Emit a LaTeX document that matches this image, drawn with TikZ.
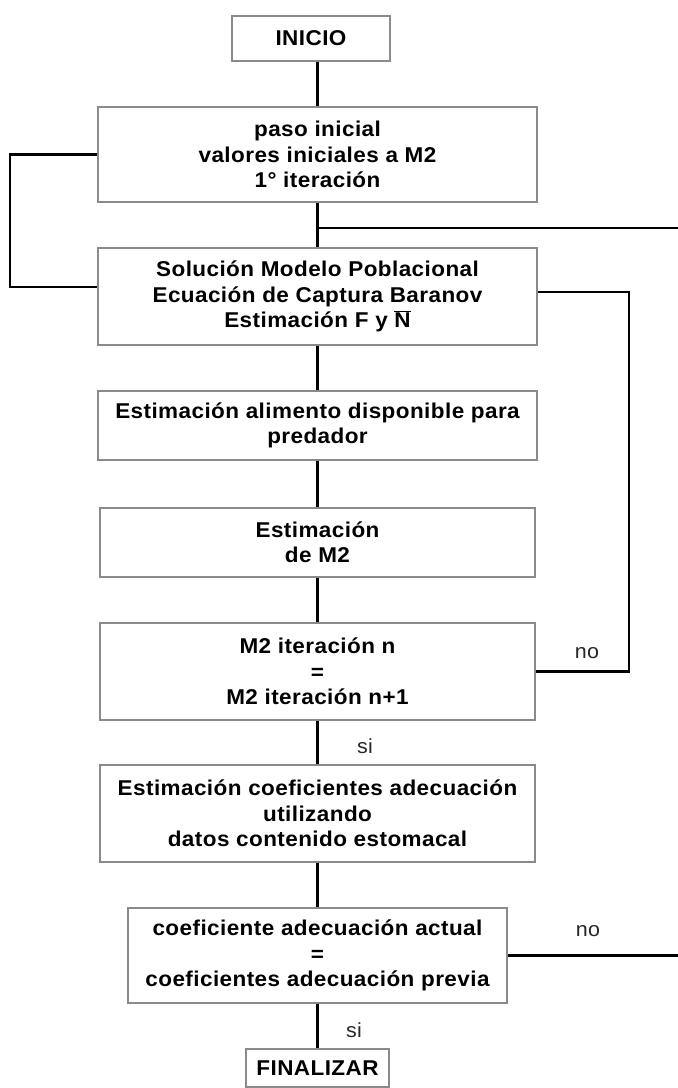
\documentclass[tikz,border=0pt]{standalone}
\usepackage{fontspec}
\setmainfont{Liberation Sans}[FakeStretch=1.05,LetterSpace=2]
\begin{document}
\begin{tikzpicture}[x=1bp,y=-1bp,
  box/.style={draw=boxgray,line width=1.6bp,fill=white,align=center,inner sep=0pt,
    font=\fontsize{21.5}{25.5}\selectfont\bfseries},
  conn/.style={line width=2.2bp,black},
  lbl/.style={font=\fontsize{20.5}{24}\selectfont,text=black!85,inner sep=0pt}]
\definecolor{boxgray}{HTML}{8A8A8A}
\useasboundingbox[fill=white] (0,0) rectangle (678,1088);
\node[box,minimum width=158bp,minimum height=45bp] (inicio) at (311,38.5) {INICIO};
\node[box,minimum width=439bp,minimum height=95bp] (paso) at (317.5,154.5)
  {paso inicial\\valores iniciales a M2\\1° iteración};
\node[box,minimum width=439bp,minimum height=97bp] (sol) at (317.5,296.5)
  {Solución Modelo Poblacional\\Ecuación de Captura Baranov\\Estimación F y $\overline{\mbox{N}}$};
\node[box,minimum width=439bp,minimum height=69bp] (alim) at (317.5,425.5)
  {Estimación alimento disponible para\\predador};
\node[box,minimum width=435bp,minimum height=69bp] (estm) at (317.5,542.5)
  {Estimación\\de M2};
\node[box,minimum width=435bp,minimum height=97bp] (m2it) at (317.5,671.5)
  {M2 iteración n\\=\\M2 iteración n+1};
\node[box,minimum width=435bp,minimum height=97bp] (coef) at (317.5,813.5)
  {Estimación coeficientes adecuación\\utilizando\\datos contenido estomacal};
\node[box,minimum width=379bp,minimum height=95bp] (coefeq) at (317.5,955.5)
  {coeficiente adecuación actual\\=\\coeficientes adecuación previa};
\node[box,minimum width=143bp,minimum height=38bp] (fin) at (317.5,1068) {FINALIZAR};
% trunk
\draw[conn] (paso.north) -- (paso.north |- inicio.south);
\draw[conn] (paso.south) -- (sol.north);
\draw[conn] (sol.south) -- (alim.north);
\draw[conn] (alim.south) -- (estm.north);
\draw[conn] (estm.south) -- (m2it.north);
\draw[conn] (m2it.south) -- (coef.north);
\draw[conn] (coef.south) -- (coefeq.north);
\draw[conn] (coefeq.south) -- (fin.north);
% left loop
\coordinate (ll) at (10,287);
\draw[conn] (paso.west) -| (ll) -- (ll -| sol.west);
% right branch at top
\coordinate (rt) at (678,228);
\draw[conn] (rt -| paso.south) -- (rt);
% right loop
\coordinate (rl) at (629,292);
\draw[conn] (m2it.east) -| (rl) -- (rl -| sol.east);
% bottom no
\coordinate (rb) at (678,955.5);
\draw[conn] (coefeq.east) -- (rb);
% labels
\node[lbl] (no1) at (587,653) {no};
\node[lbl] (si1) at (365,746) {si};
\node[lbl] (no2) at (588,931) {no};
\node[lbl] (si2) at (354,1030) {si};
\end{tikzpicture}
\end{document}
